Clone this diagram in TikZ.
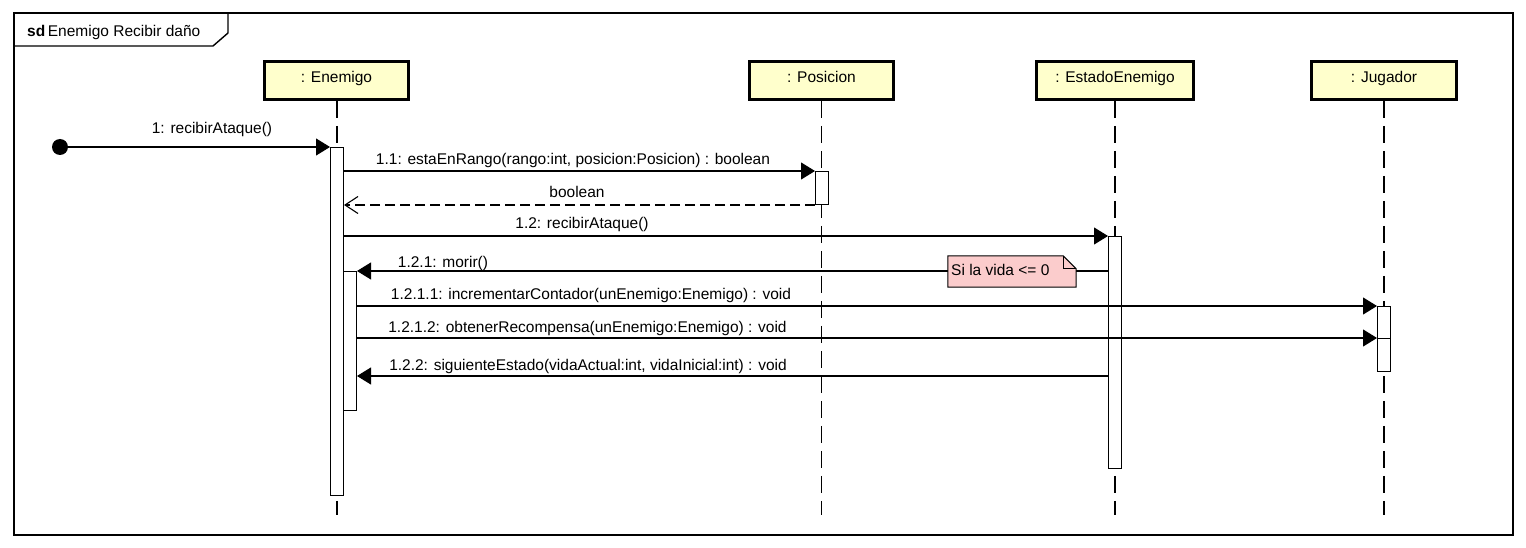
\documentclass[tikz,border=0pt]{standalone}
\usepackage{fontspec}
\setmainfont{Liberation Sans}
\usetikzlibrary{arrows.meta}
\definecolor{headfill}{RGB}{255,255,204}
\definecolor{notefill}{RGB}{251,204,204}
\begin{document}
\begin{tikzpicture}[x=1pt,y=-1pt,
  font=\fontsize{15.5}{18}\selectfont,
  head/.style={draw, line width=2.8pt, fill=headfill, minimum width=144, minimum height=38,
               inner sep=0pt, text height=11pt, text depth=6pt},
  act/.style={draw, line width=1pt, fill=white, minimum width=13, inner sep=0pt, anchor=north west},
  lifeline/.style={line width=1.3pt, dash pattern=on 17pt off 8pt},
  msg/.style={line width=1.1pt, -{Triangle[length=14pt,width=17pt]}},
  ret/.style={line width=1.1pt, dash pattern=on 10pt off 5pt, -{Straight Barb[length=13pt,width=17pt,line width=1.1pt]}},
  lbl/.style={anchor=base, inner sep=0pt},
]
\useasboundingbox (0,0) rectangle (1526,548);

% frame and its title tab
\draw[line width=1.4pt] (14,13) rectangle (1513,535);
\draw[line width=1.4pt] (14,46) -- (213,46) -- (228,33) -- (228,13);
\node[anchor=base west, inner sep=0pt] (title) at (27,37) {\textbf{sd}\,Enemigo Recibir daño};

% lifeline heads
\node[head] (hE) at (336.5,80.5) {: Enemigo};
\node[head] (hP) at (821.5,80.5) {: Posicion};
\node[head, minimum width=157] (hS) at (1115,80.5) {: EstadoEnemigo};
\node[head, minimum width=145] (hJ) at (1384,80.5) {: Jugador};

% lifeline ends
\coordinate (eE) at (337,515);
\coordinate (eP) at (821.5,515);
\coordinate (eS) at (1115,515);
\coordinate (eJ) at (1384,515);
\draw[lifeline] (hE.south -| eE) -- (eE);
\draw[lifeline] (hP.south -| eP) -- (eP);
\draw[lifeline] (hS.south -| eS) -- (eS);
\draw[lifeline] (hJ.south -| eJ) -- (eJ);

% activation bars
\node[act, minimum height=348] (aE) at (330,147) {};
\node[act, minimum height=139] (aN) at (343,271) {};
\node[act, minimum height=33] (aP) at (815,171) {};
\node[act, minimum height=232] (aS) at (1108,236) {};
\node[act, minimum height=32] (aJ1) at (1377,306) {};
\node[act, minimum height=33] (aJ2) at (1377,338) {};

% found message start
\node[circle, fill=black, minimum size=16, inner sep=0pt] (start) at (60,147) {};
\coordinate (y122) at (0,376);

% messages
\draw[msg] (start) -- (aE.north west);
\node[lbl] (l1) at (212,134) {1: recibirAtaque()};

\draw[msg] (aE.east |- aP.north) -- (aP.north west);
\node[lbl] (l11) at (573,164.5) {1.1: estaEnRango(rango:int, posicion:Posicion) : boolean};

\draw[ret] (aP.south west) -- (aE.east |- aP.south);
\node[lbl] (lr) at (577,197.5) {boolean};

\draw[msg] (aE.east |- aS.north) -- (aS.north west);
\node[lbl] (l12) at (582,228.5) {1.2: recibirAtaque()};

\draw[msg] (aS.west |- aN.north) -- (aN.north east);
\node[lbl] (l121) at (443,267.5) {1.2.1: morir()};

\draw[msg] (aN.east |- aJ1.north) -- (aJ1.north west);
\node[lbl] (l1211) at (591,299.5) {1.2.1.1: incrementarContador(unEnemigo:Enemigo) : void};

\draw[msg] (aN.east |- aJ2.north) -- (aJ2.north west);
\node[lbl] (l1212) at (587.5,332) {1.2.1.2: obtenerRecompensa(unEnemigo:Enemigo) : void};

\draw[msg] (aS.west |- y122) -- (aN.east |- y122);
\node[lbl] (l122) at (588,370) {1.2.2: siguienteEstado(vidaActual:int, vidaInicial:int) : void};

% note with folded corner
\node[minimum width=128, minimum height=31, inner sep=0pt] (note) at (1012,271.5) {};
\draw[line width=1pt, fill=notefill]
  (note.south west) -- (note.north west) -- ([xshift=-13pt]note.north east)
  -- ([yshift=-13pt]note.north east) -- (note.south east) -- cycle;
\draw[line width=1pt] ([xshift=-13pt]note.north east) -- ([xshift=-13pt,yshift=-13pt]note.north east)
  -- ([yshift=-13pt]note.north east);
\node[anchor=base west, inner sep=0pt] (notetext) at (951,276) {Si la vida <= 0};
\end{tikzpicture}
\end{document}
